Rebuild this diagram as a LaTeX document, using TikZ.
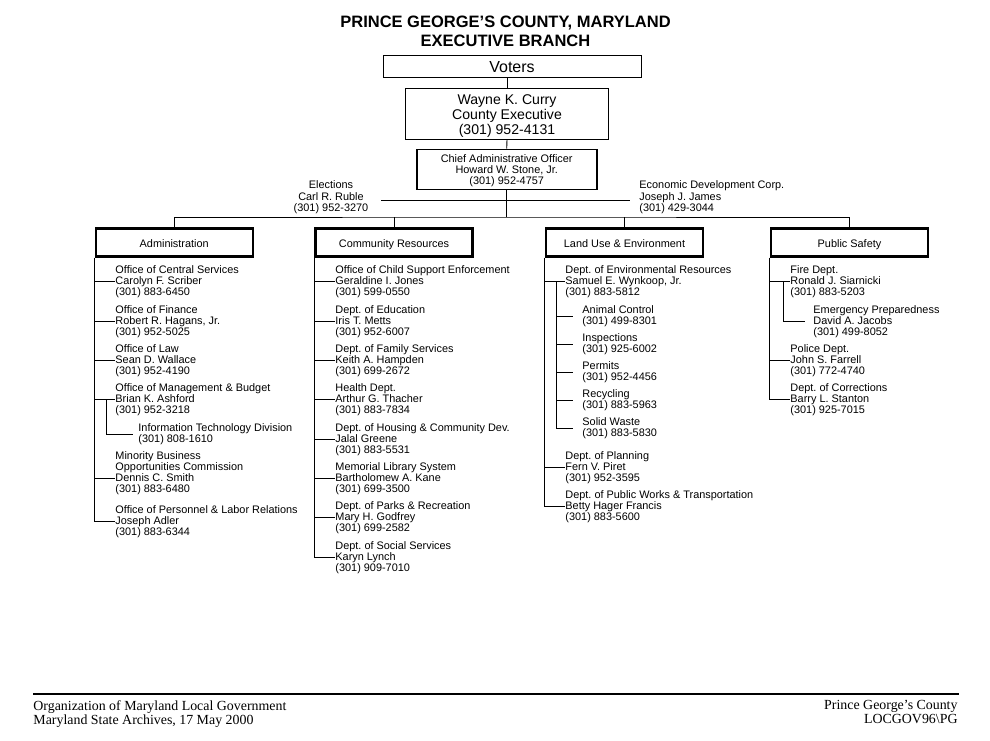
\documentclass[tikz,border=0pt]{standalone}
\usepackage{fontspec}
\setmainfont{Liberation Sans}
\newfontfamily\footfont[Ligatures=TeX]{Liberation Serif}
\frenchspacing
\begin{document}
\begin{tikzpicture}[x=1pt,y=1pt,line width=0.9pt,
    box/.style={draw,line width=1pt,inner sep=0pt},
    boxtext/.style={inner sep=0pt,align=center},
    head/.style={draw,line width=2.2pt,minimum width=157pt,minimum height=28pt,
      inner sep=0pt,text height=11pt,text depth=2pt,font=\fontsize{10.9}{11}\selectfont},
    item/.style={anchor=north west,inner sep=0pt,align=left,
      font=\fontsize{10.9}{11}\selectfont}]
        \useasboundingbox (0,0) rectangle (990,-740);
        % top of the chart
        \node[align=center,font=\bfseries\fontsize{16.5}{19}\selectfont] (title) at (505.5,-31)
          {PRINCE GEORGE'S COUNTY, MARYLAND\\EXECUTIVE BRANCH};
        \node[box,minimum width=258pt,minimum height=22pt] (voters) at (512,-66) {};
        \node[boxtext,font=\fontsize{16}{16}\selectfont] (votersT) at ([yshift=-1pt]voters.center) {Voters};
        \node[box,minimum width=203pt,minimum height=51pt] (curry) at (507,-113.7) {};
        \node[boxtext,font=\fontsize{14.1}{15}\selectfont] (curryT) at ([yshift=-2.5pt]curry.center)
          {Wayne K. Curry\\County Executive\\(301) 952-4131};
        \node[box,line width=1.6pt,minimum width=180pt,minimum height=40pt] (cao) at (506.7,-169.3) {};
        \node[boxtext,font=\fontsize{10.9}{11}\selectfont] (caoT) at ([yshift=-1.5pt]cao.center)
          {Chief Administrative Officer\\Howard W. Stone, Jr.\\(301) 952-4757};
        \node[align=center,inner xsep=12.5pt,inner ysep=0pt,font=\fontsize{10.9}{11.5}\selectfont] (elect) at (331,-197.5)
          {Elections\\Carl R. Ruble\\(301) 952-3270};
        \node[align=left,anchor=west,inner xsep=9pt,inner ysep=0pt,font=\fontsize{10.9}{11.5}\selectfont] (econ) at (630,-197.5)
          {Economic Development Corp.\\Joseph J. James\\(301) 429-3044};
        \coordinate (bus) at (506.7,-217);
        \draw (curry.north) -- (curry.north |- voters.south);
        \draw (curry.south) -- (cao.north);
        \draw (cao.south) -- (bus);
        \draw ([yshift=-2.7pt]elect.east) -- ([yshift=-2.7pt]econ.west);
        % the four branches
        \node[head] (adm) at (174.2,-242.5) {Administration};
        \node[head] (cr) at (394,-242.5) {Community Resources};
        \node[head] (lu) at (624.5,-242.5) {Land Use \& Environment};
        \node[head] (ps) at (849.5,-242.5) {Public Safety};
        \draw (adm.north) |- (bus) -| (ps.north);
        \draw (cr.north) -- (cr.north |- bus);
        \draw (lu.north) -- (lu.north |- bus);
        % Administration
        \node[item] (ocs) at (115,-265) {Office of Central Services\\Carolyn F. Scriber\\(301) 883-6450};
        \node[item] (fin) at (115,-305) {Office of Finance\\Robert R. Hagans, Jr.\\(301) 952-5025};
        \node[item] (law) at (115,-344) {Office of Law\\Sean D. Wallace\\(301) 952-4190};
        \node[item] (omb) at (115,-383) {Office of Management \& Budget\\Brian K. Ashford\\(301) 952-3218};
        \node[item] (itd) at (138,-423) {Information Technology Division\\(301) 808-1610};
        \node[item] (mbo) at (115,-451) {Minority Business\\Opportunities Commission\\Dennis C. Smith\\(301) 883-6480};
        \node[item] (olr) at (115,-505) {Office of Personnel \& Labor Relations\\Joseph Adler\\(301) 883-6344};
        \coordinate (mbot) at ([yshift=-5.5pt]mbo.west);
        \coordinate (ombx) at ([xshift=-9pt]omb.west);
        \draw (adm.south west) |- (olr.west);
        \foreach \n in {ocs,fin,law,omb,mbot}
          \draw (adm.south west |- \n) -- (\n);
        \draw (ombx) |- ([xshift=-5pt]itd.west);
        % Community Resources
        \node[item] (child) at (335,-265) {Office of Child Support Enforcement\\Geraldine I. Jones\\(301) 599-0550};
        \node[item] (edu) at (335,-305) {Dept. of Education\\Iris T. Metts\\(301) 952-6007};
        \node[item] (fam) at (335,-344) {Dept. of Family Services\\Keith A. Hampden\\(301) 699-2672};
        \node[item] (health) at (335,-383) {Health Dept.\\Arthur G. Thacher\\(301) 883-7834};
        \node[item] (house) at (335,-423) {Dept. of Housing \& Community Dev.\\Jalal Greene\\(301) 883-5531};
        \node[item] (lib) at (335,-462) {Memorial Library System\\Bartholomew A. Kane\\(301) 699-3500};
        \node[item] (parks) at (335,-501) {Dept. of Parks \& Recreation\\Mary H. Godfrey\\(301) 699-2582};
        \node[item] (social) at (335,-541) {Dept. of Social Services\\Karyn Lynch\\(301) 909-7010};
        \draw (cr.south west) |- (social.west);
        \foreach \n in {child,edu,fam,health,house,lib,parks}
          \draw (cr.south west |- \n.west) -- (\n.west);
        % Land Use & Environment
        \node[item] (env) at (565,-265) {Dept. of Environmental Resources\\Samuel E. Wynkoop, Jr.\\(301) 883-5812};
        \node[item] (anim) at (582,-305) {Animal Control\\(301) 499-8301};
        \node[item] (insp) at (582,-333) {Inspections\\(301) 925-6002};
        \node[item] (perm) at (582,-361) {Permits\\(301) 952-4456};
        \node[item] (recyc) at (582,-389) {Recycling\\(301) 883-5963};
        \node[item] (waste) at (582,-417) {Solid Waste\\(301) 883-5830};
        \node[item] (plan) at (565,-451) {Dept. of Planning\\Fern V. Piret\\(301) 952-3595};
        \node[item] (works) at (565,-490) {Dept. of Public Works \& Transportation\\Betty Hager Francis\\(301) 883-5600};
        \coordinate (envx) at ([xshift=-9pt]env.west);
        \draw (lu.south west) |- (works.west);
        \foreach \n in {env,plan}
          \draw (lu.south west |- \n.west) -- (\n.west);
        \draw (envx) |- ([xshift=-9pt]waste.west);
        \foreach \n in {anim,insp,perm,recyc}
          \draw (envx |- \n.west) -- ([xshift=-9pt]\n.west);
        % Public Safety
        \node[item] (fire) at (790,-265) {Fire Dept.\\Ronald J. Siarnicki\\(301) 883-5203};
        \node[item] (emerg) at (813,-305) {Emergency Preparedness\\David A. Jacobs\\(301) 499-8052};
        \node[item] (police) at (790,-344) {Police Dept.\\John S. Farrell\\(301) 772-4740};
        \node[item] (corr) at (790,-383) {Dept. of Corrections\\Barry L. Stanton\\(301) 925-7015};
        \draw (ps.south west) |- (corr.west);
        \foreach \n in {fire,police}
          \draw (ps.south west |- \n.west) -- (\n.west);
        \draw ([xshift=-7pt]fire.west) |- ([xshift=-8pt]emerg.west);
        % footer
        \draw[line width=2.7pt] (33,-694) -- (959,-694);
        \node[anchor=north west,inner sep=0pt,align=left,font=\footfont\fontsize{13.9}{14}\selectfont] (orgl) at (33,-700)
          {Organization of Maryland Local Government\\Maryland State Archives, 17 May 2000};
        \node[anchor=north east,inner sep=0pt,align=right,font=\footfont\fontsize{13.9}{14}\selectfont] (orgr) at (958,-700)
          {Prince George's County\\LOCGOV96\textbackslash PG};
      \end{tikzpicture}
\end{document}
